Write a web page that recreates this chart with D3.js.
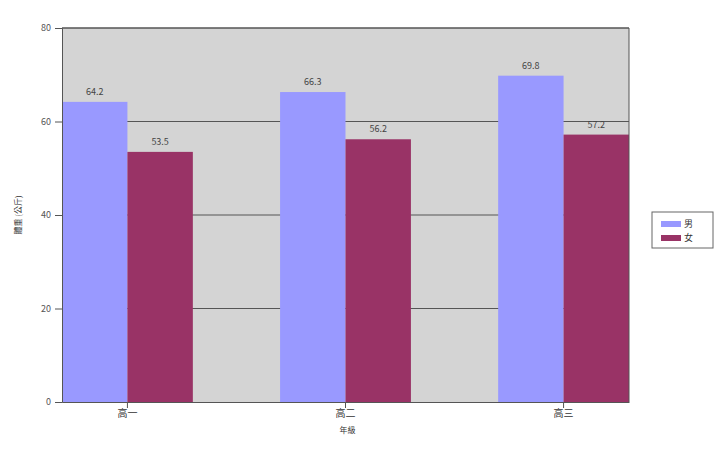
<!DOCTYPE html>
<html><head><meta charset="utf-8">
<script src="https://cdn.jsdelivr.net/npm/d3@7"></script>
<style>body{margin:0;background:#fff}svg text{font-family:"Noto Sans CJK TC","Noto Sans",sans-serif}</style>
</head><body>
<script>
const categories = ["高一", "高二", "高三"];
const seriesNames = ["男", "女"];
const male = [64.2, 66.3, 69.8];
const female = [53.5, 56.2, 57.2];
const yTicks = [0, 20, 40, 60, 80];
const colors = ["#9999ff", "#993366"];

const W = 720, H = 455;
const m = {left: 62, right: 91, top: 28, bottom: 53};
const svg = d3.select("body").append("svg").attr("width", W).attr("height", H);
const x = d3.scaleBand().domain(categories).range([m.left, W - m.right]).paddingInner(0.4).paddingOuter(0);
const xs = d3.scaleBand().domain(seriesNames).range([0, x.bandwidth()]);
const y = d3.scaleLinear().domain([0, 80]).range([H - m.bottom, m.top]);

svg.append("rect").attr("x", m.left).attr("y", m.top).attr("width", W - m.left - m.right)
  .attr("height", H - m.top - m.bottom).attr("fill", "#d4d4d4");

svg.append("g").selectAll("line").data(yTicks.filter(d => d > 0)).join("line")
  .attr("x1", m.left).attr("x2", W - m.right).attr("y1", d => y(d)).attr("y2", d => y(d))
  .attr("stroke", "#555").attr("stroke-width", 1);

const rows = categories.map((c, i) => ({c, vals: [male[i], female[i]]}));
const g = svg.append("g").selectAll("g").data(rows).join("g").attr("transform", d => `translate(${x(d.c)},0)`);
g.selectAll("rect").data(d => d.vals.map((v, j) => ({v, s: seriesNames[j], j}))).join("rect")
  .attr("x", d => xs(d.s)).attr("width", xs.bandwidth()).attr("y", d => y(d.v))
  .attr("height", d => y(0) - y(d.v)).attr("fill", d => colors[d.j]);
g.selectAll("text").data(d => d.vals.map((v, j) => ({v, s: seriesNames[j]}))).join("text")
  .attr("x", d => xs(d.s) + xs.bandwidth() / 2).attr("y", d => y(d.v) - 7)
  .attr("text-anchor", "middle").attr("font-size", 9).attr("fill", "#444").text(d => d.v.toFixed(1));

// border lines
svg.append("line").attr("x1", W - m.right).attr("x2", W - m.right).attr("y1", m.top).attr("y2", H - m.bottom).attr("stroke", "#555");
svg.append("line").attr("x1", m.left).attr("x2", W - m.right).attr("y1", m.top).attr("y2", m.top).attr("stroke", "#555");

const ya = svg.append("g").attr("transform", `translate(${m.left},0)`)
  .call(d3.axisLeft(y).tickValues(yTicks).tickSize(7).tickPadding(4));
ya.select(".domain").attr("stroke", "#555");
ya.selectAll(".tick line").attr("stroke", "#555");
ya.selectAll("text").attr("font-size", 9).attr("fill", "#555").attr("font-family", "Noto Sans CJK TC");

const xa = svg.append("g").attr("transform", `translate(0,${H - m.bottom})`)
  .call(d3.axisBottom(x).tickSize(6).tickPadding(2).tickSizeOuter(0));
xa.select(".domain").attr("stroke", "#555");
xa.selectAll(".tick line").attr("stroke", "#555");
xa.selectAll("text").attr("font-size", 10).attr("fill", "#333").attr("font-family", "Noto Sans CJK TC");

svg.append("text").attr("x", (m.left + W - m.right) / 2 + 2).attr("y", 433).attr("text-anchor", "middle")
  .attr("font-size", 8).attr("fill", "#333").text("年級");
svg.append("text").attr("transform", "translate(21,215) rotate(-90)").attr("text-anchor", "middle")
  .attr("font-size", 8).attr("fill", "#333").text("體重 (公斤)");

const lg = svg.append("g").attr("transform", "translate(652,212)");
lg.append("rect").attr("width", 61).attr("height", 36).attr("fill", "#fff").attr("stroke", "#666");
lg.selectAll(".sw").data(seriesNames).join("rect").attr("class", "sw")
  .attr("x", 9).attr("y", (d, i) => 9 + i * 14).attr("width", 20).attr("height", 6)
  .attr("fill", (d, i) => colors[i]);
lg.selectAll(".lt").data(seriesNames).join("text").attr("class", "lt")
  .attr("x", 32).attr("y", (d, i) => 15 + i * 14).attr("font-size", 9).attr("fill", "#333").text(d => d);
</script>
</body></html>
